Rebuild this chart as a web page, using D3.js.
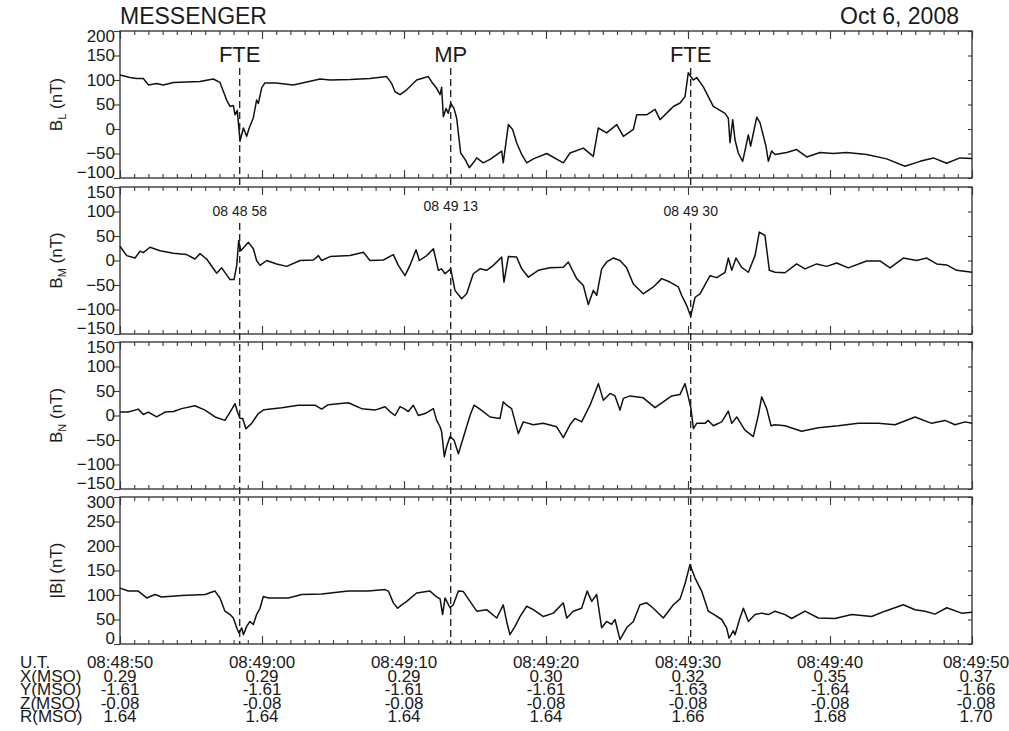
<!DOCTYPE html>
<html>
<head>
<meta charset="utf-8">
<script src="https://cdn.jsdelivr.net/npm/d3@7"></script>
<style>
  body { margin: 0; background: #fff; }
  svg text { font-family: "Liberation Sans", Arial, sans-serif; fill: #1a1a1a; }
</style>
</head>
<body>
<div id="chart"></div>
<script>
// time in seconds after 08:48:50, field in nT
const bL = [[0,110],[0.7,105],[1.17,103],[1.64,103],[2.0,90],[2.58,93],[3.05,90],[3.76,95],[5.63,97],[6.57,102],[7.04,95],[7.51,59],[7.75,46],[7.98,48],[8.1,29],[8.26,38],[8.4,-8],[8.45,-25],[8.69,2],[8.92,-15],[9.1,2],[9.39,23],[9.62,59],[9.74,52],[9.98,84],[10.2,94],[11.0,94],[12.2,90],[14.1,102],[14.79,100],[16.2,101],[17.6,103],[18.78,107],[19.13,93],[19.37,76],[19.72,70],[20.19,80],[20.89,100],[21.71,107],[21.95,96],[22.3,83],[22.54,70],[22.65,85],[22.77,25],[22.96,42],[23.12,32],[23.29,53],[23.52,42],[23.71,22],[23.99,-49],[24.3,-62],[24.6,-79],[24.88,-69],[25.12,-59],[25.58,-69],[26.06,-62],[26.88,-45],[26.99,-69],[27.35,9],[27.65,-1],[27.93,-28],[28.29,-52],[28.64,-69],[29.11,-61],[30.05,-50],[31.22,-69],[31.69,-49],[32.63,-39],[33.33,-56],[33.68,2],[34.27,-8],[34.98,9],[35.45,-15],[36.15,-1],[36.39,29],[37.09,29],[37.68,40],[38.03,19],[38.73,39],[38.97,46],[39.44,53],[39.79,66],[40.02,115],[40.19,107],[40.38,100],[40.61,105],[41.08,86],[41.78,46],[42.61,32],[42.84,22],[42.96,-28],[43.15,19],[43.31,-22],[43.54,-49],[43.85,-66],[44.25,-12],[44.41,-35],[44.84,24],[45.07,13],[45.49,-35],[45.66,-66],[45.89,-45],[46.13,-52],[46.95,-48],[47.65,-42],[48.36,-57],[49.3,-48],[50.23,-50],[51.17,-48],[52.58,-52],[53.99,-61],[55.28,-76],[56.34,-66],[57.28,-59],[58.22,-70],[59.15,-59],[60,-60]];

const bM = [[0,29],[0.47,10],[1.06,5],[1.41,19],[1.64,16],[2.11,27],[2.82,20],[3.76,15],[4.69,12],[5.28,3],[5.63,14],[6.1,3],[6.81,-26],[7.16,-15],[7.75,-39],[8.03,-39],[8.22,-10],[8.36,41],[8.5,20],[8.73,27],[9.04,37],[9.39,24],[9.62,0],[9.86,-10],[10.33,0],[11.03,-7],[11.74,-12],[12.68,0],[13.62,1],[13.97,10],[14.2,0],[14.79,8],[16.2,10],[17.14,17],[17.6,0],[18.55,1],[19.25,12],[19.6,-10],[20.07,-31],[20.42,-10],[20.85,22],[21.08,0],[21.6,10],[22.07,24],[22.42,-20],[22.65,-17],[22.89,-27],[23.29,-17],[23.59,-61],[24.06,-78],[24.41,-68],[24.88,-27],[25.35,-17],[25.82,-20],[26.29,-10],[26.88,7],[27.04,-44],[27.35,8],[27.93,7],[28.29,-17],[28.76,-34],[29.46,-20],[30.28,-15],[31.22,-14],[31.57,-3],[32.16,-37],[32.63,-51],[32.98,-90],[33.33,-61],[33.57,-71],[33.92,-17],[34.27,-3],[34.74,5],[35.21,0],[35.68,-15],[36.15,-48],[36.85,-68],[37.56,-54],[38.15,-37],[38.73,-44],[39.32,-54],[39.55,-71],[39.91,-92],[40.19,-114],[40.5,-75],[40.85,-68],[41.55,-31],[42.03,-35],[42.61,-24],[42.84,5],[43.08,-20],[43.38,5],[43.78,-14],[44.25,-24],[44.72,10],[45.02,58],[45.42,51],[45.73,-20],[46.13,-24],[46.83,-25],[47.65,-7],[48.24,-17],[49.06,-7],[49.77,-12],[50.47,-5],[51.29,-15],[52.58,-1],[53.52,-1],[54.23,-15],[55.16,5],[56.1,0],[56.81,5],[57.51,-7],[58.22,-9],[58.92,-20],[60,-24]];

const bN = [[0,7],[0.59,7],[1.29,13],[1.64,2],[2.0,7],[2.58,-3],[3.17,7],[3.76,8],[4.34,14],[5.28,20],[5.99,11],[6.69,-3],[7.39,-10],[7.75,7],[8.1,24],[8.26,8],[8.45,-6],[8.64,-6],[8.87,-27],[9.27,-16],[9.74,4],[10.09,11],[10.45,13],[11.39,16],[12.56,21],[13.73,21],[14.2,13],[14.67,22],[16.08,26],[17.02,14],[17.96,11],[18.66,18],[19.01,8],[19.37,0],[19.72,18],[20.07,13],[20.3,8],[20.66,21],[21.01,0],[21.48,4],[22.07,14],[22.3,-10],[22.54,-23],[22.65,-33],[22.84,-84],[23.0,-64],[23.24,-43],[23.52,-50],[23.83,-78],[24.3,-33],[24.65,0],[24.93,21],[25.35,13],[26.06,-3],[26.76,-6],[26.99,28],[27.23,21],[27.58,14],[28.05,-37],[28.4,-13],[29.11,-19],[29.81,-16],[30.75,-23],[31.22,-45],[31.69,-19],[32.04,-6],[32.51,-13],[33.1,21],[33.69,65],[34.04,31],[34.51,45],[34.86,40],[35.21,11],[35.45,35],[35.92,40],[36.85,36],[37.68,16],[38.26,28],[38.85,40],[39.44,43],[39.79,65],[40.02,38],[40.21,14],[40.38,-27],[40.61,-16],[41.2,-16],[41.43,-10],[41.78,-21],[42.37,-13],[42.84,9],[43.08,-16],[43.43,-3],[44.01,-30],[44.6,-43],[44.95,0],[45.19,38],[45.54,14],[45.85,-21],[46.13,-19],[46.83,-21],[48.0,-32],[49.18,-25],[50.58,-21],[51.99,-16],[53.4,-16],[54.58,-19],[55.99,-3],[57.16,-16],[58.1,-10],[58.8,-19],[59.51,-13],[60,-16]];

const bTot = [[0,114],[0.59,108],[1.29,108],[1.88,94],[2.47,101],[2.93,96],[4.34,99],[5.99,101],[6.69,108],[7.04,94],[7.39,67],[7.75,60],[7.98,53],[8.22,33],[8.38,22],[8.57,33],[8.69,19],[8.92,36],[9.15,46],[9.39,40],[9.62,60],[9.86,73],[10.09,97],[10.45,94],[11.86,94],[12.8,101],[14.2,102],[16.08,108],[17.49,108],[18.66,111],[18.9,108],[19.25,84],[19.55,73],[19.84,80],[20.19,87],[20.89,104],[21.83,108],[22.3,96],[22.54,92],[22.72,60],[22.89,94],[23.24,74],[23.47,80],[23.83,108],[24.18,107],[24.65,87],[25.12,67],[25.82,70],[26.53,53],[26.99,80],[27.23,46],[27.46,19],[27.82,36],[28.17,56],[28.64,77],[29.11,70],[29.81,56],[30.52,63],[31.22,84],[31.46,53],[31.92,67],[32.51,73],[32.9,108],[33.22,87],[33.57,101],[33.92,33],[34.27,46],[34.62,40],[34.86,50],[35.21,9],[35.68,33],[36.15,46],[36.62,80],[37.09,84],[37.56,73],[38.26,53],[38.97,80],[39.44,92],[39.79,123],[40.14,162],[40.49,135],[40.96,108],[41.43,67],[41.9,59],[42.37,50],[42.72,33],[42.89,12],[43.19,27],[43.31,19],[43.66,53],[43.9,73],[44.25,46],[44.72,60],[45.19,63],[45.66,60],[46.13,67],[46.83,60],[47.3,52],[48.24,67],[49.18,53],[50.35,52],[51.53,60],[52.93,56],[53.87,67],[55.16,80],[55.99,70],[56.69,67],[57.39,61],[58.22,74],[59.27,63],[60,65]];

// events: name, time (s), timestamp label
const eventNames = ["FTE", "MP", "FTE"];
const eventTimes = [8.43, 23.29, 40.19];
const eventStamps = ["08 48 58", "08 49 13", "08 49 30"];
const stampRaise = [0, 5, 0];

// ephemeris table below the plot
const tickTimes = [0, 10, 20, 30, 40, 50, 60];
const rowNames = ["U.T.", "X(MSO)", "Y(MSO)", "Z(MSO)", "R(MSO)"];
const utLabels = ["08:48:50", "08:49:00", "08:49:10", "08:49:20", "08:49:30", "08:49:40", "08:49:50"];
const xMso = ["0.29", "0.29", "0.29", "0.30", "0.32", "0.35", "0.37"];
const yMso = ["-1.61", "-1.61", "-1.61", "-1.61", "-1.63", "-1.64", "-1.66"];
const zMso = ["-0.08", "-0.08", "-0.08", "-0.08", "-0.08", "-0.08", "-0.08"];
const rMso = ["1.64", "1.64", "1.64", "1.64", "1.66", "1.68", "1.70"];

const panels = [
  { data: bL, domain: [-100, 200], ticks: [-100, -50, 0, 50, 100, 150, 200], base: "B", sub: "L", tail: " (nT)" },
  { data: bM, domain: [-150, 150], ticks: [-150, -100, -50, 0, 50, 100, 150], base: "B", sub: "M", tail: " (nT)" },
  { data: bN, domain: [-150, 150], ticks: [-150, -100, -50, 0, 50, 100, 150], base: "B", sub: "N", tail: " (nT)" },
  { data: bTot, domain: [0, 300], ticks: [0, 50, 100, 150, 200, 250, 300], base: "|B| (nT)", sub: "", tail: "" }
];

const W = 1009, H = 731;
const left = 120, right = 972;
const panelTops = [31, 187, 342, 497];
const panelH = 147;
const ink = "#1a1a1a", frame = "#3a3a3a";

const svg = d3.select("#chart").append("svg")
  .attr("width", W)
  .attr("height", H);

const x = d3.scaleLinear().domain([0, 60]).range([left, right]);

// header
svg.append("text").attr("x", left).attr("y", 24)
  .style("font-size", "23px").text("MESSENGER");
svg.append("text").attr("x", 959).attr("y", 24)
  .attr("text-anchor", "end").style("font-size", "23px").text("Oct 6, 2008");

const minor = d3.range(0, 61);
const major = d3.range(0, 61, 10);

panels.forEach((p, i) => {
  const top = panelTops[i], bottom = top + panelH;
  const y = d3.scaleLinear().domain(p.domain).range([bottom, top]);
  const g = svg.append("g");

  // time ticks, pointing inward on both edges
  g.append("g").attr("transform", `translate(0,${bottom})`)
    .call(d3.axisBottom(x).tickValues(minor).tickSize(-4).tickFormat(""));
  g.append("g").attr("transform", `translate(0,${bottom})`)
    .call(d3.axisBottom(x).tickValues(major).tickSize(-8).tickFormat(""));
  g.append("g").attr("transform", `translate(0,${top})`)
    .call(d3.axisTop(x).tickValues(minor).tickSize(-4).tickFormat(""));
  g.append("g").attr("transform", `translate(0,${top})`)
    .call(d3.axisTop(x).tickValues(major).tickSize(-8).tickFormat(""));

  // value axis
  const ya = g.append("g").attr("transform", `translate(${left},0)`)
    .call(d3.axisLeft(y).tickValues(p.ticks).tickSize(6).tickPadding(-1));
  ya.selectAll("text").style("font-size", "17px").attr("fill", ink)
    .attr("dy", (d, k) => k === 0 ? "-0.05em" : (k === p.ticks.length - 1 ? "0.62em" : "0.32em"));
  g.append("g").attr("transform", `translate(${right},0)`)
    .call(d3.axisRight(y).tickValues(p.ticks).tickSize(-4).tickFormat(""));

  g.selectAll(".domain").remove();
  g.selectAll(".tick line").attr("stroke", frame).attr("stroke-width", 1.1);

  g.append("rect")
    .attr("x", left).attr("y", top)
    .attr("width", right - left).attr("height", panelH)
    .attr("fill", "none").attr("stroke", frame).attr("stroke-width", 1.4);

  // field trace
  const line = d3.line().x(d => x(d[0])).y(d => y(d[1]));
  g.append("path").datum(p.data)
    .attr("d", line)
    .attr("fill", "none")
    .attr("stroke", "#111")
    .attr("stroke-width", 1.5)
    .attr("stroke-linejoin", "round");

  // axis title
  const t = g.append("text")
    .attr("transform", `translate(62,${top + panelH / 2}) rotate(-90)`)
    .attr("text-anchor", "middle")
    .style("font-size", "17px");
  t.append("tspan").text(p.base);
  if (p.sub) {
    t.append("tspan").attr("dy", 4).style("font-size", "11px").text(p.sub);
    t.append("tspan").attr("dy", -4).text(p.tail);
  }
});

// event markers
eventTimes.forEach((et, i) => {
  const ex = x(et);
  svg.append("text").attr("x", ex).attr("y", 62)
    .attr("text-anchor", "middle").style("font-size", "22px").text(eventNames[i]);
  svg.append("line")
    .attr("x1", ex).attr("x2", ex).attr("y1", 68).attr("y2", panelTops[1])
    .attr("stroke", ink).attr("stroke-width", 1.3).attr("stroke-dasharray", "7,4");
  svg.append("text").attr("x", ex).attr("y", 216 - stampRaise[i])
    .attr("text-anchor", "middle").style("font-size", "14px").attr("fill", "#333")
    .text(eventStamps[i]);
  svg.append("line")
    .attr("x1", ex).attr("x2", ex).attr("y1", 223).attr("y2", panelTops[3] + panelH)
    .attr("stroke", ink).attr("stroke-width", 1.3).attr("stroke-dasharray", "7,4");
});

// ephemeris table
const rows = [utLabels, xMso, yMso, zMso, rMso];
const rowY = [668, 681.5, 695, 708.5, 722];
rowNames.forEach((name, r) => {
  svg.append("text").attr("x", 20).attr("y", rowY[r])
    .style("font-size", "17px").text(name);
  svg.append("g").selectAll("text")
    .data(rows[r])
    .join("text")
    .attr("x", (d, k) => x(tickTimes[k]) + (k === tickTimes.length - 1 ? 4 : 0))
    .attr("y", rowY[r])
    .attr("text-anchor", "middle")
    .style("font-size", "17px")
    .text(d => d);
});
</script>
</body>
</html>
